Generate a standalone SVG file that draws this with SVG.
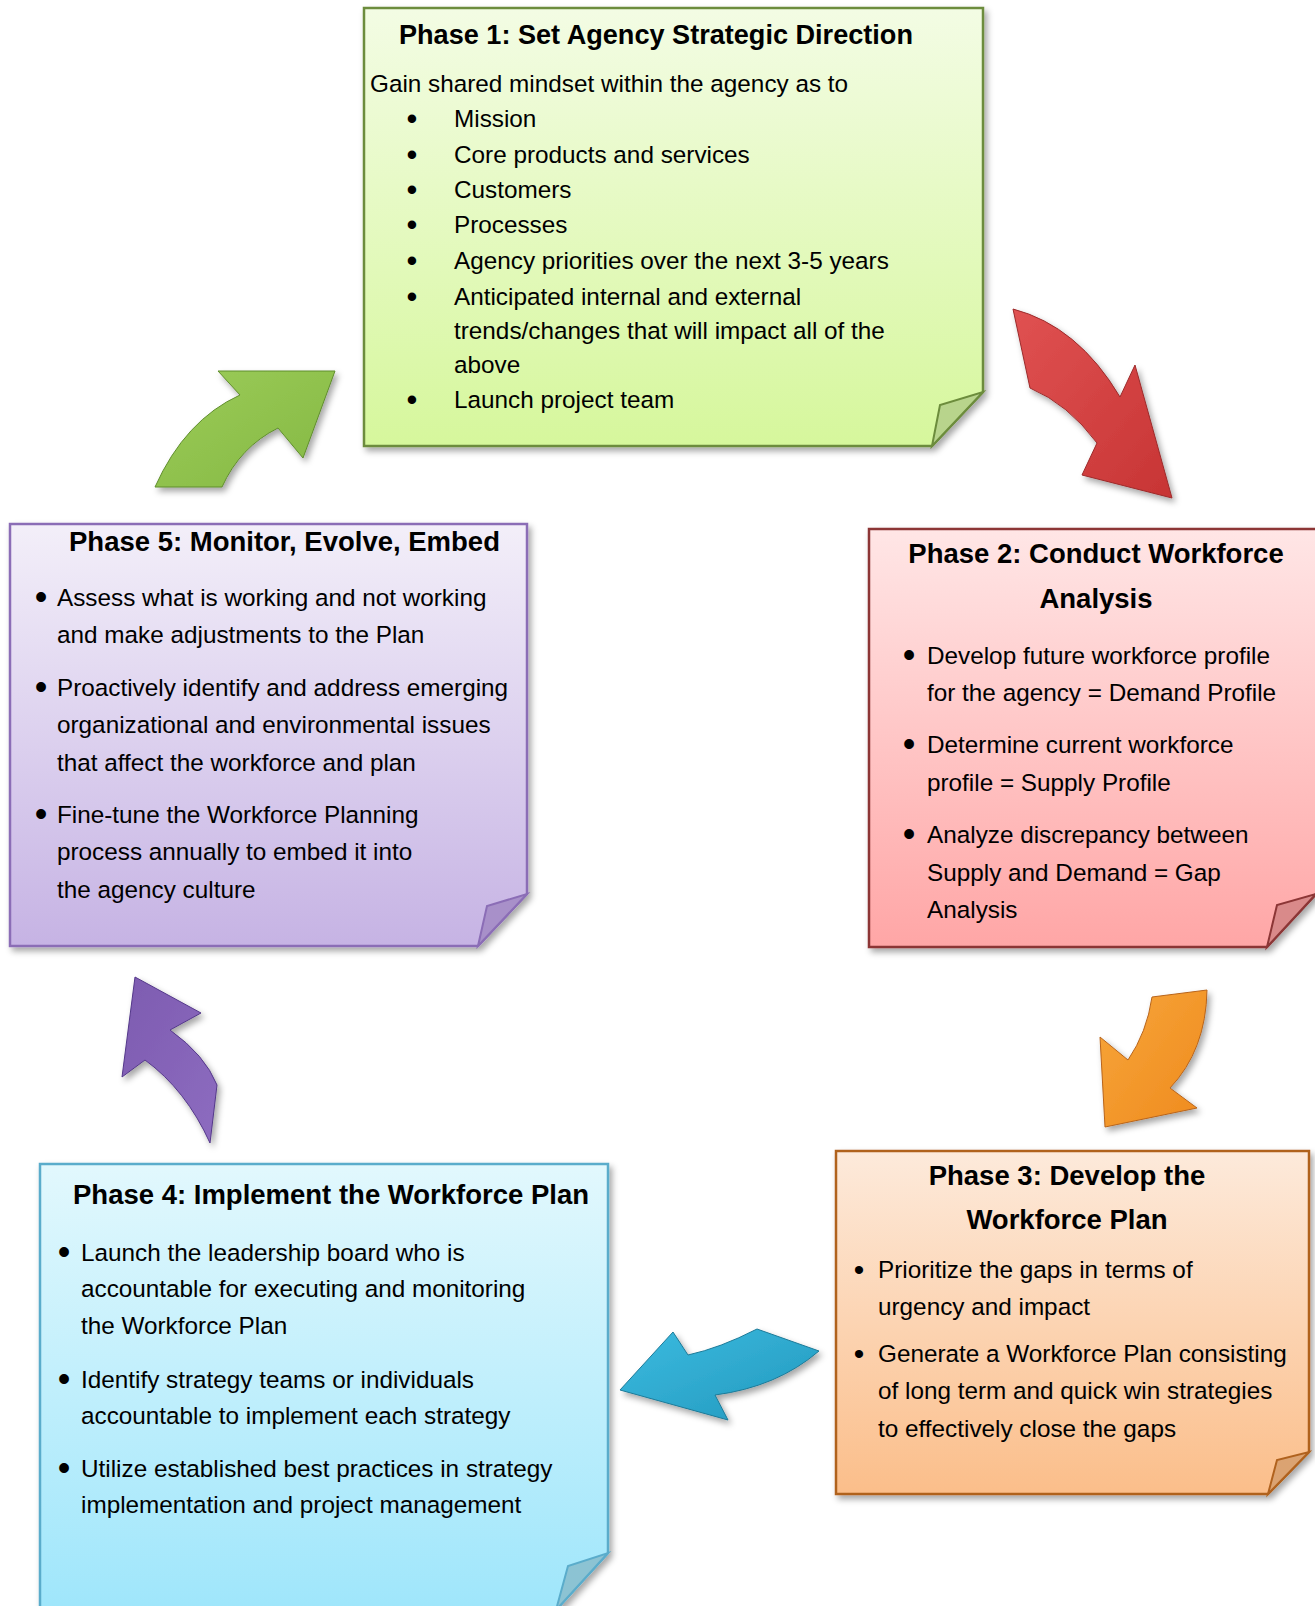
<svg xmlns="http://www.w3.org/2000/svg" width="1315" height="1606" viewBox="0 0 1315 1606">
<style>
.t{font-family:"Liberation Sans",Arial,sans-serif;font-weight:bold;font-size:27.5px;fill:#000}
.b{font-family:"Liberation Sans",Arial,sans-serif;font-size:24.3px;fill:#000}
.m{text-anchor:middle}
.d{font-family:"Liberation Sans",Arial,sans-serif;font-size:36px;fill:#000;text-anchor:middle}
.d1{font-family:"Liberation Sans",Arial,sans-serif;font-size:31px;fill:#000;text-anchor:middle}
.d3{font-family:"Liberation Sans",Arial,sans-serif;font-size:30px;fill:#000;text-anchor:middle}
</style>
<defs>
<filter id="sh" x="-5%" y="-5%" width="112%" height="112%">
<feDropShadow dx="3" dy="4" stdDeviation="3" flood-color="#000" flood-opacity="0.35"/>
</filter>
<filter id="ash" x="-20%" y="-20%" width="150%" height="150%">
<feDropShadow dx="3" dy="4" stdDeviation="3" flood-color="#000" flood-opacity="0.35"/>
</filter>
<linearGradient id="g1" x1="0" y1="0" x2="0" y2="1"><stop offset="0" stop-color="#f3fce4"/><stop offset="1" stop-color="#d6f79c"/></linearGradient>
<linearGradient id="g2" x1="0" y1="0" x2="0" y2="1"><stop offset="0" stop-color="#ffe6e6"/><stop offset="1" stop-color="#ffa6a6"/></linearGradient>
<linearGradient id="g3" x1="0" y1="0" x2="0" y2="1"><stop offset="0" stop-color="#fdeadb"/><stop offset="1" stop-color="#fbbe8a"/></linearGradient>
<linearGradient id="g4" x1="0" y1="0" x2="0" y2="1"><stop offset="0" stop-color="#e2f8fd"/><stop offset="1" stop-color="#9fe6fb"/></linearGradient>
<linearGradient id="g5" x1="0" y1="0" x2="0" y2="1"><stop offset="0" stop-color="#f3eff9"/><stop offset="1" stop-color="#c6b3e4"/></linearGradient>
<linearGradient id="ar" x1="0" y1="0" x2="1" y2="1"><stop offset="0" stop-color="#e05252"/><stop offset="1" stop-color="#c73434"/></linearGradient>
<linearGradient id="ag" x1="0" y1="0" x2="1" y2="1"><stop offset="0" stop-color="#9ccc58"/><stop offset="1" stop-color="#84b844"/></linearGradient>
<linearGradient id="ao" x1="0" y1="0" x2="1" y2="1"><stop offset="0" stop-color="#f7a63a"/><stop offset="1" stop-color="#ef8a1e"/></linearGradient>
<linearGradient id="at" x1="0" y1="0" x2="1" y2="1"><stop offset="0" stop-color="#3bbbe0"/><stop offset="1" stop-color="#2398bd"/></linearGradient>
<linearGradient id="ap" x1="0" y1="0" x2="1" y2="1"><stop offset="0" stop-color="#7d5bb0"/><stop offset="1" stop-color="#8d6cc0"/></linearGradient>
</defs>

<g id="connectors">
<path id="arrow-1-2" filter="url(#ash)" fill="url(#ar)" stroke="#9c2a2a" stroke-width="1" d="M1013,309 Q1078,326 1120,397 L1135,365 L1172,498 L1082,475 L1097,443 Q1068,404 1030,388 Z"/>
<path id="arrow-2-3" filter="url(#ash)" fill="url(#ao)" stroke="#b8641a" stroke-width="1" d="M1152,997 L1207,990 Q1206,1050 1170,1088 L1197,1108 L1105,1127 L1100,1037 L1128,1060 Q1147,1032 1152,997 Z"/>
<path id="arrow-3-4" filter="url(#ash)" fill="url(#at)" stroke="#1c7a98" stroke-width="1" d="M757,1329 Q720,1348 688,1355 L673,1332 L620,1390 L728,1420 L715,1395 Q777,1387 819,1351 Z"/>
<path id="arrow-4-5" filter="url(#ash)" fill="url(#ap)" stroke="#54388a" stroke-width="1" d="M135,977 L201,1013 L170,1030 Q205,1055 217,1085 L210,1143 Q186,1090 145,1060 L122,1077 Z"/>
<path id="arrow-5-1" filter="url(#ash)" fill="url(#ag)" stroke="#5f8d2c" stroke-width="1" d="M155,487 Q185,420 240,395 L218,371 L335,371 L303,458 L278,428 Q240,447 222,487 Z"/>
</g>

<g id="phase1">
<path filter="url(#sh)" fill="url(#g1)" stroke="#6c8c3c" stroke-width="2.5" d="M364,8 H983 V392 L932,446 H364 Z"/>
<path fill="#b8d48c" stroke="#6c8c3c" stroke-width="2" d="M932,446 L940,405 L983,392 Z"/>
<text class="t" x="399" y="44" style="font-size:27.1px">Phase 1: Set Agency Strategic Direction</text>
<text class="b" x="370" y="92">Gain shared mindset within the agency as to</text>
<text class="d1" x="412" y="129">•</text><text class="b" x="454" y="127">Mission</text>
<text class="d1" x="412" y="165">•</text><text class="b" x="454" y="163">Core products and services</text>
<text class="d1" x="412" y="200">•</text><text class="b" x="454" y="198">Customers</text>
<text class="d1" x="412" y="235">•</text><text class="b" x="454" y="233">Processes</text>
<text class="d1" x="412" y="271">•</text><text class="b" x="454" y="269">Agency priorities over the next 3-5 years</text>
<text class="d1" x="412" y="307">•</text><text class="b" x="454" y="305">Anticipated internal and external</text>
<text class="b" x="454" y="339">trends/changes that will impact all of the</text>
<text class="b" x="454" y="373">above</text>
<text class="d1" x="412" y="410">•</text><text class="b" x="454" y="408">Launch project team</text>
</g>

<g id="phase2">
<path filter="url(#sh)" fill="url(#g2)" stroke="#8c3636" stroke-width="2.5" d="M869,529 H1330 V879 L1267,947 H869 Z"/>
<path fill="#d98a8a" stroke="#8c3636" stroke-width="2" d="M1267,947 L1277,905 L1316,894 Z"/>
<text class="t m" x="1096" y="563">Phase 2: Conduct Workforce</text>
<text class="t m" x="1096" y="608">Analysis</text>
<text class="d" x="909" y="667">•</text><text class="b" x="927" y="664">Develop future workforce profile</text>
<text class="b" x="927" y="701">for the agency = Demand Profile</text>
<text class="d" x="909" y="756">•</text><text class="b" x="927" y="753">Determine current workforce</text>
<text class="b" x="927" y="791">profile = Supply Profile</text>
<text class="d" x="909" y="846">•</text><text class="b" x="927" y="843">Analyze discrepancy between</text>
<text class="b" x="927" y="881">Supply and Demand = Gap</text>
<text class="b" x="927" y="918">Analysis</text>
</g>

<g id="phase3">
<path filter="url(#sh)" fill="url(#g3)" stroke="#b0621e" stroke-width="2.5" d="M836,1151 H1309 V1452 L1268,1494 H836 Z"/>
<path fill="#dba372" stroke="#b0621e" stroke-width="2" d="M1268,1494 L1277,1460 L1309,1452 Z"/>
<text class="t m" x="1067" y="1185">Phase 3: Develop the</text>
<text class="t m" x="1067" y="1229">Workforce Plan</text>
<text class="d3" x="859" y="1280">•</text><text class="b" x="878" y="1278">Prioritize the gaps in terms of</text>
<text class="b" x="878" y="1315">urgency and impact</text>
<text class="d3" x="859" y="1364">•</text><text class="b" x="878" y="1362">Generate a Workforce Plan consisting</text>
<text class="b" x="878" y="1399">of long term and quick win strategies</text>
<text class="b" x="878" y="1437">to effectively close the gaps</text>
</g>

<g id="phase4">
<path filter="url(#sh)" fill="url(#g4)" stroke="#5aaccb" stroke-width="2.5" d="M40,1164 H608 V1553 L556,1610 H40 Z"/>
<path fill="#8cc3d3" stroke="#5aaccb" stroke-width="2" d="M556,1610 L568,1566 L608,1553 Z"/>
<text class="t" x="73" y="1204">Phase 4: Implement the Workforce Plan</text>
<text class="d" x="64" y="1264">•</text><text class="b" x="81" y="1261">Launch the leadership board who is</text>
<text class="b" x="81" y="1297">accountable for executing and monitoring</text>
<text class="b" x="81" y="1334">the Workforce Plan</text>
<text class="d" x="64" y="1391">•</text><text class="b" x="81" y="1388">Identify strategy teams or individuals</text>
<text class="b" x="81" y="1424">accountable to implement each strategy</text>
<text class="d" x="64" y="1480">•</text><text class="b" x="81" y="1477">Utilize established best practices in strategy</text>
<text class="b" x="81" y="1513">implementation and project management</text>
</g>

<g id="phase5">
<path filter="url(#sh)" fill="url(#g5)" stroke="#8b6db6" stroke-width="2.5" d="M10,524 H527 V894 L478,946 H10 Z"/>
<path fill="#a890c9" stroke="#8b6db6" stroke-width="2" d="M478,946 L487,906 L527,894 Z"/>
<text class="t" x="69" y="551">Phase 5: Monitor, Evolve, Embed</text>
<text class="d" x="41" y="609">•</text><text class="b" x="57" y="606">Assess what is working and not working</text>
<text class="b" x="57" y="643">and make adjustments to the Plan</text>
<text class="d" x="41" y="699">•</text><text class="b" x="57" y="696">Proactively identify and address emerging</text>
<text class="b" x="57" y="733">organizational and environmental issues</text>
<text class="b" x="57" y="771">that affect the workforce and plan</text>
<text class="d" x="41" y="826">•</text><text class="b" x="57" y="823">Fine-tune the Workforce Planning</text>
<text class="b" x="57" y="860">process annually to embed it into</text>
<text class="b" x="57" y="898">the agency culture</text>
</g>
</svg>
